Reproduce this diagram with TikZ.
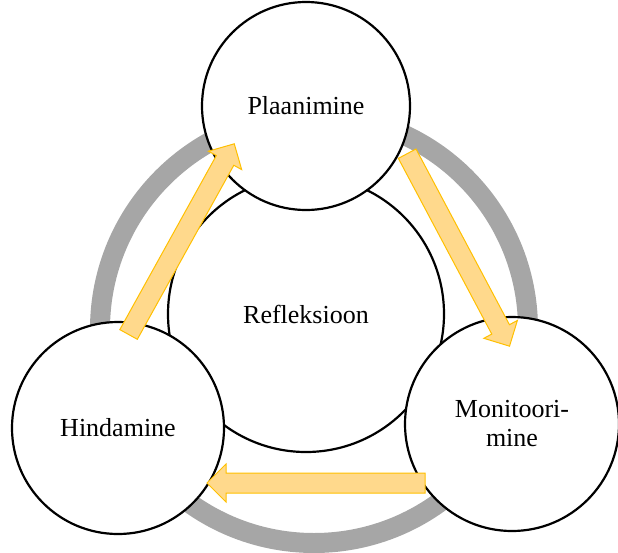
\documentclass[tikz,border=0pt]{standalone}
\usepackage{fontspec}
\setmainfont{Liberation Serif}
\usetikzlibrary{shapes.arrows}
\definecolor{ringgray}{RGB}{166,166,166}
\definecolor{arrfill}{RGB}{255,217,140}
\definecolor{arrline}{RGB}{255,192,0}

\begin{document}
\begin{tikzpicture}[x=1pt, y=-1pt,
  phase/.style={draw, circle, line width=2.2pt, fill=white, align=center,
  font=\fontsize{26}{29}\selectfont, inner sep=0pt},
  blockarr/.style={single arrow, draw=arrline, fill=arrfill, line width=1pt,
  minimum height=218pt, minimum width=37pt, single arrow head extend=9pt,
  single arrow head indent=0pt, inner sep=0pt, text height=9.5pt, text depth=9.5pt}
]
\useasboundingbox (0,0) rectangle (618,552);
% outer ring
\draw[ringgray, line width=20pt] (314,329) circle (214);
\node[phase, minimum size=276pt] (refl) at (306,314) {Refleksioon};
\node[phase, minimum size=208pt] (plan) at (306,106) {Plaanimine};
\node[phase, minimum size=212pt] (hind) at (118,428) {Hindamine};
\node[phase, minimum size=214pt] (moni) at (512,424) {Monitoori-\\mine};
% cycle arrows
\node[blockarr, rotate=61]  (a1) at (179,243.5) {};
\node[blockarr, rotate=-62] (a2) at (456,245.5) {};
\node[blockarr, rotate=180] (a3) at (321,483) {};
\end{tikzpicture}
\end{document}
